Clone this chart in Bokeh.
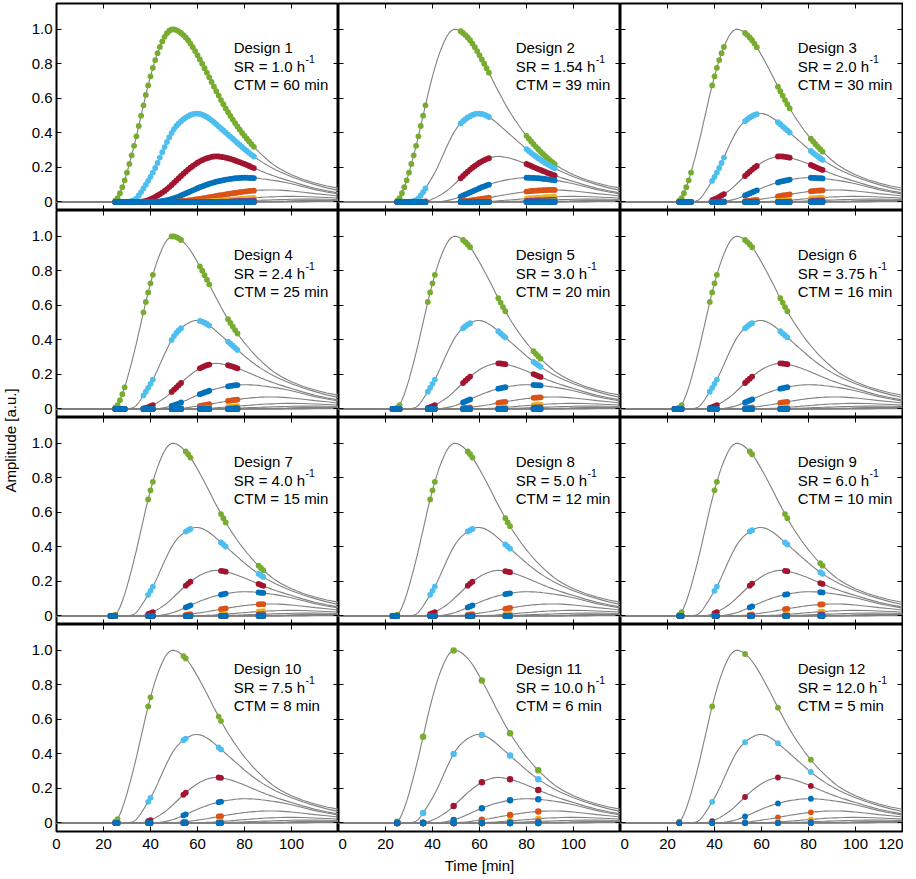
from math import pi
from bokeh.plotting import figure
from bokeh.models import Label, LinearAxis, FixedTicker
from bokeh.layouts import gridplot, row
from bokeh.embed import file_html
from bokeh.resources import INLINE

# ---------------- data ----------------
# common time grid [min]: 0, 20, 22..93 every minute, then a coarser tail
TIME = [0, 20] + list(range(22, 94)) + [95, 98, 100, 105, 110, 115, 120]

GREEN = ([0.0, 0.0]
         + [0.0, 0.0, 0.002, 0.007, 0.022, 0.05, 0.085, 0.125]
         + [0.17, 0.22, 0.27, 0.325, 0.38, 0.44, 0.5, 0.56, 0.62, 0.675]
         + [0.728, 0.777, 0.822, 0.862, 0.898, 0.93, 0.957, 0.978, 0.992, 1.0]
         + [1.0, 0.996, 0.989, 0.979, 0.967, 0.953, 0.937, 0.918, 0.897, 0.874]
         + [0.85, 0.826, 0.801, 0.775, 0.749, 0.722, 0.695, 0.668, 0.642, 0.616]
         + [0.59, 0.566, 0.542, 0.52, 0.498, 0.477, 0.457, 0.437, 0.418, 0.4]
         + [0.383, 0.366, 0.35, 0.334, 0.319, 0.305, 0.291, 0.278, 0.265, 0.253]
         + [0.241, 0.23, 0.219, 0.209]
         + [0.192, 0.17, 0.157, 0.13, 0.109, 0.092, 0.079])

LIGHTBLUE = ([0.0, 0.0]
             + [0.0] * 8
             + [0.0, 0.002, 0.005, 0.01, 0.02, 0.037, 0.057, 0.078, 0.1, 0.122]
             + [0.145, 0.17, 0.197, 0.226, 0.257, 0.288, 0.318, 0.347, 0.375, 0.4]
             + [0.422, 0.44, 0.455, 0.468, 0.479, 0.489, 0.497, 0.504, 0.509, 0.512]
             + [0.512, 0.51, 0.506, 0.5, 0.492, 0.483, 0.473, 0.462, 0.45, 0.438]
             + [0.426, 0.414, 0.402, 0.39, 0.378, 0.366, 0.354, 0.342, 0.33, 0.318]
             + [0.306, 0.295, 0.284, 0.273, 0.263, 0.253, 0.244, 0.235, 0.226, 0.218]
             + [0.21, 0.202, 0.195, 0.188]
             + [0.175, 0.157, 0.146, 0.121, 0.1, 0.081, 0.066])

DARKRED = ([0.0, 0.0]
           + [0.0] * 8
           + [0.0, 0.0, 0.0, 0.0, 0.0, 0.0, 0.001, 0.003, 0.006, 0.01]
           + [0.016, 0.022, 0.029, 0.037, 0.045, 0.054, 0.063, 0.074, 0.086, 0.098]
           + [0.111, 0.124, 0.137, 0.15, 0.163, 0.175, 0.187, 0.198, 0.208, 0.218]
           + [0.227, 0.235, 0.242, 0.248, 0.253, 0.257, 0.261, 0.263, 0.264, 0.263]
           + [0.261, 0.259, 0.256, 0.253, 0.249, 0.245, 0.24, 0.235, 0.23, 0.225]
           + [0.22, 0.214, 0.208, 0.202, 0.196, 0.19, 0.185, 0.179, 0.174, 0.168]
           + [0.163, 0.158, 0.153, 0.148]
           + [0.139, 0.126, 0.118, 0.097, 0.079, 0.064, 0.052])

BLUE = ([0.0, 0.0]
        + [0.0] * 8
        + [0.0] * 10
        + [0.0, 0.0, 0.001, 0.002, 0.003, 0.005, 0.007, 0.01, 0.013, 0.017]
        + [0.021, 0.026, 0.031, 0.037, 0.043, 0.049, 0.055, 0.061, 0.067, 0.073]
        + [0.079, 0.085, 0.09, 0.095, 0.1, 0.105, 0.109, 0.113, 0.117, 0.12]
        + [0.123, 0.126, 0.129, 0.131, 0.133, 0.135, 0.137, 0.138, 0.139, 0.14]
        + [0.14, 0.14, 0.139, 0.139, 0.138, 0.137, 0.136, 0.134, 0.133, 0.131]
        + [0.129, 0.127, 0.125, 0.123]
        + [0.119, 0.111, 0.105, 0.088, 0.071, 0.057, 0.045])

ORANGE = ([0.0, 0.0]
          + [0.0] * 8
          + [0.0] * 20
          + [0.001, 0.002, 0.003, 0.004, 0.005, 0.006, 0.008, 0.01, 0.012, 0.014]
          + [0.016, 0.018, 0.02, 0.022, 0.024, 0.027, 0.029, 0.032, 0.034, 0.037]
          + [0.039, 0.041, 0.044, 0.046, 0.048, 0.05, 0.052, 0.054, 0.056, 0.058]
          + [0.06, 0.061, 0.063, 0.064, 0.065, 0.066, 0.067, 0.068, 0.068, 0.069]
          + [0.069, 0.069, 0.069, 0.069]
          + [0.068, 0.065, 0.063, 0.056, 0.048, 0.041, 0.034])

YELLOW = ([0.0, 0.0]
          + [0.0] * 8
          + [0.0] * 30
          + [0.001, 0.001, 0.002, 0.002, 0.003, 0.003, 0.004, 0.005, 0.006, 0.007]
          + [0.008, 0.009, 0.01, 0.011, 0.012, 0.013, 0.014, 0.016, 0.017, 0.018]
          + [0.019, 0.02, 0.021, 0.022, 0.023, 0.024, 0.025, 0.026, 0.027, 0.028]
          + [0.028, 0.029, 0.029, 0.03]
          + [0.031, 0.032, 0.032, 0.031, 0.028, 0.025, 0.022])

PURPLE = ([0.0, 0.0]
          + [0.0] * 8
          + [0.0] * 40
          + [0.001, 0.001, 0.002, 0.002, 0.003, 0.003, 0.004, 0.004, 0.005, 0.005]
          + [0.006, 0.006, 0.007, 0.007, 0.008, 0.008, 0.009, 0.009, 0.01, 0.01]
          + [0.011, 0.011, 0.012, 0.012]
          + [0.013, 0.014, 0.015, 0.016, 0.016, 0.015, 0.014])

GREEN_B = ([0.0, 0.0]
           + [0.0] * 8
           + [0.0] * 50
           + [0.001, 0.001, 0.001, 0.002, 0.002, 0.002, 0.002, 0.003, 0.003, 0.003]
           + [0.003, 0.004, 0.004, 0.004]
           + [0.004, 0.005, 0.006, 0.007, 0.008, 0.008, 0.008])

LIGHTBLUE_B = ([0.0, 0.0] + [0.0] * 8 + [0.0] * 60
               + [0.001, 0.001, 0.001, 0.001]
               + [0.001, 0.002, 0.002, 0.003, 0.003, 0.004, 0.004])

DARKRED_B = ([0.0, 0.0] + [0.0] * 8 + [0.0] * 60
             + [0.0, 0.0, 0.0, 0.0]
             + [0.0, 0.001, 0.001, 0.001, 0.002, 0.002, 0.002])

BLUE_B = ([0.0, 0.0] + [0.0] * 8 + [0.0] * 60
          + [0.0, 0.0, 0.0, 0.0]
          + [0.0, 0.0, 0.0, 0.0, 0.001, 0.001, 0.001])

CURVES = [GREEN, LIGHTBLUE, DARKRED, BLUE, ORANGE, YELLOW, PURPLE,
          GREEN_B, LIGHTBLUE_B, DARKRED_B, BLUE_B]
COLORS = ["#77AC30", "#4DBEEE", "#A2142F", "#0072BD", "#D95319", "#EDB120",
          "#7E2F8E", "#77AC30", "#4DBEEE", "#A2142F", "#0072BD"]

# sampling designs
DESIGN_SR = ["1.0", "1.54", "2.0", "2.4", "3.0", "3.75", "4.0", "5.0",
             "6.0", "7.5", "10.0", "12.0"]
DESIGN_CTM = [60, 39, 30, 25, 20, 16, 15, 12, 10, 8, 6, 5]
WINDOW_STARTS = [[25], [25, 52, 80], [25, 39, 53, 67, 81], [25, 37, 49, 61, 73],
                 [23, 38, 53, 68, 83], [23, 38, 53, 68], [23, 39, 55, 70, 86],
                 [23, 39, 55, 71], [25, 40, 55, 70, 85], [25, 39, 54, 69],
                 [25, 36, 49, 61, 73, 85], [25, 39, 53, 67, 81]]
WINDOW_LEN = [60, 13, 6, 5, 4, 4, 3, 3, 2, 2, 1, 1]

X_TICKS = [0, 20, 40, 60, 80, 100, 120]
Y_TICKS = [0, 0.2, 0.4, 0.6, 0.8, 1.0]
Y_LABELS = {0: "0", 0.2: "0.2", 0.4: "0.4", 0.6: "0.6", 0.8: "0.8", 1.0: "1.0"}

# ---------------- drawing ----------------
FONT = "Liberation Sans"
FS = "15px"
FS_NUM = 15.0
CHAR_W = {"S": 0.667, "R": 0.722, " ": 0.278, "=": 0.584, ".": 0.278, "h": 0.556}
TEXT_X = 75.4
FRAME_W = 282
FRAME_H = 207
TOP_PAD = 3


def text_width(s, size=FS_NUM):
    return sum(CHAR_W.get(ch, 0.556) for ch in s) * size


def make_panel(r, c):
    d = r * 3 + c
    p = figure(frame_width=FRAME_W, frame_height=FRAME_H, x_range=(0, 120),
               y_range=(-0.05, 1.15),
               output_backend="svg", toolbar_location=None,
               min_border=0,
               min_border_left=35 if c == 0 else 0,
               min_border_right=1 if c == 2 else 0,
               min_border_top=TOP_PAD if r == 0 else 0,
               min_border_bottom=0)
    p.add_layout(LinearAxis(), "above")
    p.add_layout(LinearAxis(), "right")
    p.grid.visible = False
    p.outline_line_color = "black"
    p.outline_line_width = 2
    p.background_fill_color = "white"
    p.border_fill_color = "white"

    for ax in list(p.xaxis):
        ax.ticker = FixedTicker(ticks=X_TICKS)
    for ax in list(p.yaxis):
        ax.ticker = FixedTicker(ticks=Y_TICKS)
    for ax in list(p.xaxis) + list(p.yaxis):
        ax.major_tick_in = 5
        ax.major_tick_out = 0
        ax.minor_tick_line_color = None
        ax.axis_line_color = None
        ax.major_tick_line_color = "black"
        ax.major_tick_line_width = 1
        ax.major_label_text_font_size = "0px"
        ax.major_label_text_color = None
        ax.major_label_standoff = 0
        ax.major_label_text_font = FONT

    if c == 0:
        ax = p.left[0]
        ax.major_label_text_font_size = FS
        ax.major_label_text_color = "black"
        ax.major_label_standoff = 4
        ax.major_label_overrides = Y_LABELS
    if r == 3:
        ax = p.below[0]
        ax.major_label_text_font_size = FS
        ax.major_label_text_color = "black"
        ax.major_label_standoff = 7
        if c < 2:
            ax.major_label_overrides = {120: ""}
        if c == 1:
            ax.axis_label = "Time [min]"
            ax.axis_label_text_font = FONT
            ax.axis_label_text_font_size = FS
            ax.axis_label_text_font_style = "normal"
            ax.axis_label_text_color = "black"
            ax.axis_label_standoff = 5

    # model curves
    for curve in CURVES:
        p.line(TIME, curve, line_color="#808080", line_width=1.1)

    # measured samples
    times = [s + k for s in WINDOW_STARTS[d] for k in range(WINDOW_LEN[d])]
    size = 6.5 if d == 10 else 5.8
    for curve, col in zip(CURVES, COLORS):
        vals = [curve[TIME.index(t)] for t in times]
        p.scatter(times, vals, marker="circle", size=size, fill_color=col,
                  line_color=None)

    kw = dict(x_units="data", y_units="data", text_font=FONT, text_font_size=FS,
              text_color="black", text_align="left", text_baseline="alphabetic")
    sr_text = "SR = %s h" % DESIGN_SR[d]
    p.add_layout(Label(x=TEXT_X, y=0.893, text="Design %d" % (d + 1), **kw))
    p.add_layout(Label(x=TEXT_X, y=0.786, text=sr_text, **kw))
    kw_sup = dict(kw)
    kw_sup["text_font_size"] = "10.5px"
    p.add_layout(Label(x=TEXT_X, y=0.786, x_offset=text_width(sr_text) + 0.5, y_offset=7,
                       text="-1", **kw_sup))
    p.add_layout(Label(x=TEXT_X, y=0.68, text="CTM = %d min" % DESIGN_CTM[d], **kw))
    return p


panels = [[make_panel(r, c) for c in range(3)] for r in range(4)]
grid = gridplot(panels, toolbar_location=None)

STRIP_W = 21
STRIP_H = 866
strip = figure(width=STRIP_W, height=STRIP_H, x_range=(0, STRIP_W), y_range=(0, STRIP_H),
               x_axis_type=None, y_axis_type=None, output_backend="svg",
               toolbar_location=None, min_border=0, outline_line_color=None)
strip.add_layout(Label(x=10, y=STRIP_H - 440, x_units="data", y_units="data",
                       text="Amplitude [a.u.]", angle=pi / 2, text_align="center",
                       text_baseline="middle", text_font=FONT, text_font_size=FS,
                       text_color="black"))

layout = row(strip, grid)
open("out.html", "w").write(file_html(layout, INLINE))
